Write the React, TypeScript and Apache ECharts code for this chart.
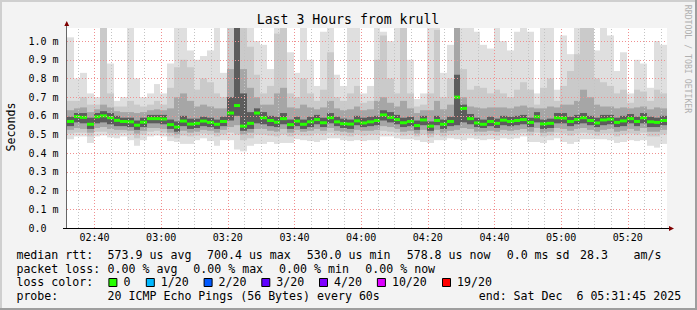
import React, { useEffect, useRef } from "react";
import * as echarts from "echarts";

// time axis in minutes since midnight: 02:31:45 .. 05:31:45
const startMinute = 151.75;
const endMinute = 331.75;
const stepMinutes = 2;

const median = [
  0.570, 0.596, 0.592, 0.555, 0.595, 0.600, 0.590, 0.576, 0.570, 0.568,
  0.550, 0.566, 0.585, 0.585, 0.583, 0.553, 0.540, 0.572, 0.556, 0.560,
  0.572, 0.565, 0.555, 0.570, 0.615, 0.655, 0.545, 0.560, 0.615, 0.590,
  0.575, 0.566, 0.585, 0.553, 0.572, 0.555, 0.568, 0.580, 0.563, 0.590,
  0.568, 0.558, 0.556, 0.573, 0.562, 0.568, 0.575, 0.605, 0.592, 0.580,
  0.563, 0.570, 0.548, 0.578, 0.545, 0.575, 0.555, 0.570, 0.700, 0.640,
  0.585, 0.562, 0.555, 0.570, 0.560, 0.577, 0.570, 0.575, 0.580, 0.565,
  0.595, 0.557, 0.560, 0.590, 0.588, 0.570, 0.580, 0.590, 0.575, 0.562,
  0.578, 0.582, 0.565, 0.573, 0.585, 0.570, 0.590, 0.568, 0.565, 0.575,
];
const smokeMax = [
  1.02, 0.80, 0.83, 0.72, 0.70, 1.07, 0.88, 0.68, 0.70, 1.07,
  0.80, 0.70, 0.72, 0.77, 0.72, 0.88, 1.07, 1.07, 0.95, 0.90,
  0.92, 0.95, 1.07, 0.83, 1.07, 1.07, 1.07, 1.07, 1.00, 0.98,
  0.85, 1.07, 1.07, 0.94, 0.83, 1.07, 0.90, 0.76, 1.05, 1.07,
  0.82, 0.76, 1.07, 1.07, 0.72, 0.76, 1.07, 1.05, 1.00, 1.07,
  1.07, 0.90, 0.69, 0.72, 1.07, 1.07, 0.83, 0.98, 1.07, 1.07,
  1.07, 1.05, 0.98, 0.96, 1.07, 1.00, 0.95, 1.05, 1.07, 1.05,
  0.72, 1.07, 1.07, 0.74, 1.03, 0.93, 1.07, 1.07, 1.07, 0.95,
  1.07, 1.03, 0.84, 0.94, 0.72, 0.90, 0.88, 0.75, 1.00, 0.98,
];
const smokeHi2 = [
  0.68, 0.68, 0.70, 0.66, 0.66, 1.07, 0.72, 0.65, 0.65, 0.68,
  0.66, 0.65, 0.66, 0.68, 0.66, 0.75, 0.86, 0.90, 0.86, 0.74,
  0.80, 0.78, 0.72, 0.70, 1.07, 1.07, 1.07, 0.97, 0.82, 0.72,
  0.76, 1.04, 1.07, 0.72, 0.70, 0.80, 0.72, 0.68, 0.74, 0.94,
  0.70, 0.68, 0.72, 0.76, 0.67, 0.68, 0.90, 1.03, 0.80, 0.72,
  1.07, 0.72, 0.65, 0.66, 0.72, 1.06, 0.70, 0.80, 1.07, 0.85,
  0.74, 0.76, 0.75, 0.72, 0.74, 0.72, 0.70, 0.74, 0.78, 0.74,
  0.66, 0.75, 0.80, 0.68, 0.76, 0.84, 0.93, 1.07, 1.07, 0.80,
  0.78, 0.76, 0.72, 0.74, 0.67, 0.74, 0.73, 0.68, 0.74, 0.72,
];
const smokeHi3 = [
  0.630, 0.640, 0.645, 0.620, 0.635, 0.660, 0.645, 0.625, 0.620, 0.620,
  0.615, 0.620, 0.630, 0.635, 0.630, 0.640, 0.700, 0.720, 0.680, 0.650,
  0.660, 0.650, 0.640, 0.640, 0.850, 1.070, 0.850, 0.750, 0.700, 0.660,
  0.660, 0.720, 0.750, 0.645, 0.640, 0.660, 0.645, 0.635, 0.645, 0.680,
  0.640, 0.630, 0.635, 0.650, 0.630, 0.635, 0.680, 0.700, 0.670, 0.650,
  0.680, 0.640, 0.615, 0.630, 0.630, 0.680, 0.635, 0.660, 1.070, 0.700,
  0.650, 0.645, 0.640, 0.645, 0.645, 0.645, 0.640, 0.650, 0.655, 0.645,
  0.640, 0.640, 0.650, 0.645, 0.660, 0.660, 0.680, 0.740, 0.700, 0.660,
  0.650, 0.650, 0.640, 0.645, 0.640, 0.645, 0.650, 0.635, 0.645, 0.640,
];
const smokeHi4 = [
  0.595, 0.615, 0.615, 0.590, 0.615, 0.625, 0.615, 0.600, 0.590, 0.590,
  0.575, 0.590, 0.605, 0.605, 0.605, 0.580, 0.570, 0.600, 0.585, 0.585,
  0.595, 0.590, 0.580, 0.595, 0.700, 1.070, 0.720, 0.620, 0.640, 0.620,
  0.600, 0.595, 0.615, 0.580, 0.595, 0.580, 0.595, 0.605, 0.590, 0.615,
  0.595, 0.585, 0.580, 0.600, 0.590, 0.595, 0.600, 0.630, 0.620, 0.605,
  0.590, 0.595, 0.575, 0.600, 0.570, 0.600, 0.580, 0.595, 0.820, 0.660,
  0.610, 0.590, 0.580, 0.595, 0.585, 0.600, 0.595, 0.600, 0.605, 0.590,
  0.620, 0.580, 0.585, 0.615, 0.615, 0.595, 0.605, 0.615, 0.600, 0.590,
  0.605, 0.605, 0.590, 0.600, 0.610, 0.595, 0.615, 0.595, 0.590, 0.600,
];
const smokeLo4 = [
  0.545, 0.565, 0.560, 0.530, 0.560, 0.565, 0.555, 0.545, 0.545, 0.540,
  0.525, 0.540, 0.560, 0.560, 0.555, 0.530, 0.515, 0.545, 0.530, 0.535,
  0.545, 0.540, 0.530, 0.545, 0.575, 0.600, 0.520, 0.530, 0.560, 0.555,
  0.545, 0.540, 0.555, 0.530, 0.545, 0.530, 0.540, 0.555, 0.540, 0.560,
  0.545, 0.535, 0.530, 0.550, 0.540, 0.545, 0.550, 0.575, 0.565, 0.555,
  0.540, 0.545, 0.525, 0.550, 0.520, 0.550, 0.530, 0.545, 0.550, 0.565,
  0.555, 0.540, 0.535, 0.545, 0.535, 0.550, 0.545, 0.550, 0.555, 0.540,
  0.565, 0.530, 0.535, 0.560, 0.560, 0.545, 0.555, 0.560, 0.550, 0.540,
  0.550, 0.555, 0.540, 0.545, 0.560, 0.545, 0.560, 0.540, 0.540, 0.550,
];
const smokeLo3 = [
  0.525, 0.535, 0.530, 0.510, 0.535, 0.540, 0.530, 0.525, 0.525, 0.520,
  0.505, 0.520, 0.535, 0.535, 0.530, 0.510, 0.500, 0.520, 0.510, 0.515,
  0.525, 0.520, 0.510, 0.525, 0.540, 0.550, 0.500, 0.510, 0.530, 0.530,
  0.520, 0.515, 0.530, 0.510, 0.525, 0.515, 0.520, 0.530, 0.520, 0.535,
  0.520, 0.515, 0.510, 0.525, 0.520, 0.520, 0.525, 0.545, 0.540, 0.530,
  0.515, 0.520, 0.505, 0.525, 0.505, 0.525, 0.510, 0.520, 0.525, 0.535,
  0.530, 0.515, 0.515, 0.520, 0.515, 0.525, 0.520, 0.525, 0.530, 0.515,
  0.535, 0.510, 0.515, 0.535, 0.530, 0.520, 0.530, 0.535, 0.525, 0.515,
  0.525, 0.530, 0.515, 0.520, 0.530, 0.520, 0.535, 0.515, 0.515, 0.525,
];
const smokeLo2 = [
  0.505, 0.510, 0.510, 0.490, 0.515, 0.515, 0.505, 0.505, 0.510, 0.500,
  0.480, 0.500, 0.515, 0.520, 0.510, 0.490, 0.480, 0.495, 0.490, 0.495,
  0.505, 0.500, 0.490, 0.500, 0.510, 0.500, 0.470, 0.480, 0.500, 0.500,
  0.495, 0.490, 0.500, 0.490, 0.500, 0.495, 0.495, 0.505, 0.500, 0.510,
  0.500, 0.495, 0.490, 0.500, 0.495, 0.500, 0.500, 0.520, 0.515, 0.510,
  0.495, 0.500, 0.490, 0.500, 0.485, 0.500, 0.490, 0.500, 0.500, 0.505,
  0.505, 0.495, 0.495, 0.500, 0.495, 0.505, 0.500, 0.505, 0.510, 0.495,
  0.510, 0.490, 0.495, 0.510, 0.505, 0.495, 0.505, 0.510, 0.505, 0.495,
  0.505, 0.505, 0.490, 0.500, 0.505, 0.500, 0.510, 0.490, 0.490, 0.500,
];
const smokeMin = [
  0.475, 0.490, 0.490, 0.455, 0.490, 0.495, 0.485, 0.480, 0.490, 0.470,
  0.440, 0.470, 0.490, 0.495, 0.490, 0.465, 0.460, 0.450, 0.450, 0.470,
  0.480, 0.465, 0.440, 0.470, 0.470, 0.420, 0.410, 0.440, 0.450, 0.450,
  0.460, 0.450, 0.455, 0.455, 0.475, 0.470, 0.465, 0.460, 0.470, 0.480,
  0.480, 0.470, 0.465, 0.470, 0.465, 0.470, 0.470, 0.490, 0.490, 0.480,
  0.475, 0.475, 0.470, 0.460, 0.455, 0.470, 0.470, 0.480, 0.475, 0.470,
  0.480, 0.475, 0.470, 0.475, 0.470, 0.480, 0.475, 0.480, 0.490, 0.460,
  0.460, 0.455, 0.470, 0.480, 0.460, 0.450, 0.460, 0.475, 0.475, 0.475,
  0.475, 0.470, 0.455, 0.460, 0.470, 0.465, 0.470, 0.440, 0.430, 0.450,
];

const yTickValues = [0, 0.1, 0.2, 0.3, 0.4, 0.5, 0.6, 0.7, 0.8, 0.9, 1.0];
const majorTimes = [160, 180, 200, 220, 240, 260, 280, 300, 320];
const minorTimes = [
  155, 165, 170, 175, 185, 190, 195, 205, 210, 215, 225, 230, 235, 245,
  250, 255, 265, 270, 275, 285, 290, 295, 305, 310, 315, 325, 330,
];

const statsRtt = ["573.9 us avg", "700.4 us max", "530.0 us min", "578.8 us now", "0.0 ms sd", "28.3", "am/s"];
const statsLoss = ["0.00 % avg", "0.00 % max", "0.00 % min", "0.00 % now"];
const lossLabels = ["0", "1/20", "2/20", "3/20", "4/20", "10/20", "19/20"];
const lossColors = ["#26ff00", "#00b8ff", "#0059ff", "#5e00ff", "#7e00ff", "#dd00ff", "#ff0000"];

const MONO = '"DejaVu Sans Mono", monospace';

function hhmm(m: number): string {
  const h = Math.floor(m / 60);
  const mm = Math.round(m - h * 60);
  return String(h).padStart(2, "0") + ":" + String(mm).padStart(2, "0");
}

function txt(x: number, y: number, text: string, size = 11.6, extra: any = {}) {
  return {
    type: "text",
    x,
    y,
    silent: true,
    style: {
      text,
      font: `${size}px ${MONO}`,
      fill: "#000",
      align: "left",
      verticalAlign: "middle",
      textAlign: "left",
      textVerticalAlign: "middle",
      ...extra,
    },
  };
}

export default function App() {
  const ref = useRef<HTMLDivElement>(null);
  useEffect(() => {
    document.body.style.margin = "0";
    if (!ref.current) return;
    const chart = echarts.init(ref.current, null, { renderer: "svg" });

    const smokeData = median.map((m, i) => [
      startMinute + i * stepMinutes,
      startMinute + (i + 1) * stepMinutes,
      m,
      smokeMax[i],
      smokeHi2[i],
      smokeHi3[i],
      smokeHi4[i],
      smokeLo4[i],
      smokeLo3[i],
      smokeLo2[i],
      smokeMin[i],
    ]);

    const gridLines: any[] = [];
    yTickValues.forEach((v) => {
      if (v > 0) gridLines.push({ yAxis: v, lineStyle: { color: "#f09090", type: [1, 2], width: 1 } });
    });
    minorTimes.forEach((t) => {
      gridLines.push({ xAxis: t, lineStyle: { color: "#c4c4c4", type: [1, 2], width: 1 } });
    });
    majorTimes.forEach((t) => {
      gridLines.push({ xAxis: t, lineStyle: { color: "#f09090", type: [1, 2], width: 1 } });
    });

    const legendCols = [107.6, 207, 306.7, 406.7, 506.7, 580, 633.5];
    const lossCols = [107.6, 193.3, 279.1, 365.3];
    const boxX = [108.4, 145.8, 203.6, 261.3, 319, 376.9, 442];

    const graphics: any[] = [
      { type: "rect", shape: { x: 0, y: 0, width: 697, height: 2 }, style: { fill: "#cfcfcf" }, silent: true },
      { type: "rect", shape: { x: 0, y: 0, width: 2, height: 310 }, style: { fill: "#cfcfcf" }, silent: true },
      { type: "rect", shape: { x: 0, y: 308, width: 697, height: 2 }, style: { fill: "#9e9e9e" }, silent: true },
      { type: "rect", shape: { x: 695, y: 0, width: 2, height: 310 }, style: { fill: "#9e9e9e" }, silent: true },
      // axes
      { type: "line", shape: { x1: 66.5, y1: 228, x2: 66.5, y2: 25 }, style: { stroke: "#666", lineWidth: 1 }, z: 10, silent: true },
      { type: "line", shape: { x1: 63, y1: 228.5, x2: 670, y2: 228.5 }, style: { stroke: "#000", lineWidth: 1 }, z: 10, silent: true },
      { type: "polygon", shape: { points: [[64.3, 26], [69.2, 26], [66.75, 21]] }, style: { fill: "#7f0000" }, z: 10, silent: true },
      { type: "polygon", shape: { points: [[669, 226], [669, 231], [674, 228.5]] }, style: { fill: "#7f0000" }, z: 10, silent: true },
      // title & axis name & watermark
      {
        type: "text", x: 348, y: 19.5, silent: true,
        style: { text: "Last 3 Hours from krull", font: `13.2px ${MONO}`, fill: "#000", align: "center", verticalAlign: "middle", textAlign: "center", textVerticalAlign: "middle" },
      },
      {
        type: "text", x: 11, y: 127, rotation: Math.PI / 2, silent: true,
        style: { text: "Seconds", font: `11.6px ${MONO}`, fill: "#000", align: "center", verticalAlign: "middle", textAlign: "center", textVerticalAlign: "middle" },
      },
      {
        type: "text", x: 687.5, y: 59, rotation: -Math.PI / 2, silent: true,
        style: { text: "RRDTOOL / TOBI OETIKER", font: `8.2px ${MONO}`, fill: "#b0b0b0", align: "center", verticalAlign: "middle", textAlign: "center", textVerticalAlign: "middle" },
      },
      // legend
      txt(16.4, 254.7, "median rtt:"),
      ...statsRtt.map((s, i) => txt(legendCols[i], 254.7, s)),
      txt(16.4, 268.7, "packet loss:"),
      ...statsLoss.map((s, i) => txt(lossCols[i], 268.7, s)),
      txt(16.4, 282.3, "loss color:"),
      ...lossLabels.flatMap((s, i) => [
        { type: "rect", shape: { x: boxX[i] + 0.5, y: 278.5, width: 8, height: 8 }, style: { fill: lossColors[i], stroke: "#000", lineWidth: 1 }, silent: true },
        txt(boxX[i] + 15, 282.3, s),
      ]),
      txt(16.4, 296.3, "probe:"),
      txt(107.6, 296.3, "20 ICMP Echo Pings (56 Bytes) every 60s"),
      txt(478.7, 296.3, "end: Sat Dec\u00a0\u00a06 05:31:45 2025"),
    ];

    chart.setOption({
      animation: false,
      backgroundColor: "#f3f3f3",
      grid: { left: 67, right: 30, top: 28, bottom: 82, show: true, backgroundColor: "#ffffff", borderWidth: 0 },
      xAxis: {
        type: "value",
        min: startMinute,
        max: endMinute,
        axisLine: { show: false },
        axisTick: { show: false },
        splitLine: { show: false },
        axisLabel: {
          customValues: majorTimes,
          formatter: (v: number) => hhmm(v),
          fontFamily: MONO,
          fontSize: 10,
          color: "#000",
          margin: 4,
        },
      },
      yAxis: {
        type: "value",
        min: 0,
        max: 1.07,
        axisLine: { show: false },
        axisTick: { show: false },
        splitLine: { show: false },
        axisLabel: {
          customValues: yTickValues,
          formatter: (v: number) => (v === 0 ? "0.0" : v.toFixed(1) + " m"),
          fontFamily: MONO,
          fontSize: 10,
          color: "#000",
          align: "left",
          margin: 38.5,
        },
      },
      series: [
        {
          type: "custom",
          clip: true,
          data: smokeData,
          encode: { x: [0, 1], y: [2, 3, 4, 5, 6, 7, 8, 9, 10] },
          renderItem: (params: any, api: any) => {
            const t0 = api.value(0);
            const t1 = api.value(1);
            const x0 = Math.round(api.coord([t0, 0])[0]);
            const x1 = Math.round(api.coord([t1, 0])[0]);
            const yy = (v: number) => api.coord([t0, v])[1];
            const band = (lo: number, hi: number, fill: string) => ({
              type: "rect",
              shape: { x: x0, y: yy(hi), width: x1 - x0, height: yy(lo) - yy(hi) },
              style: { fill },
            });
            const med = api.value(2);
            return {
              type: "group",
              children: [
                band(api.value(10), api.value(3), "#dfdfdf"),
                band(api.value(9), api.value(4), "#cacaca"),
                band(api.value(8), api.value(5), "#a6a6a6"),
                band(api.value(7), api.value(6), "#5c5c5c"),
                {
                  type: "rect",
                  shape: { x: x0, y: yy(med) - 1.5, width: x1 - x0, height: 3 },
                  style: { fill: "#26ff00" },
                },
              ],
            };
          },
          z: 2,
        },
        {
          type: "line",
          data: [],
          silent: true,
          z: 5,
          markLine: {
            silent: true,
            symbol: ["none", "none"],
            label: { show: false },
            emphasis: { disabled: true },
            data: gridLines,
          },
        },
      ],
      graphic: graphics,
    });
    return () => chart.dispose();
  }, []);
  return <div ref={ref} style={{ width: 697, height: 310 }} />;
}
